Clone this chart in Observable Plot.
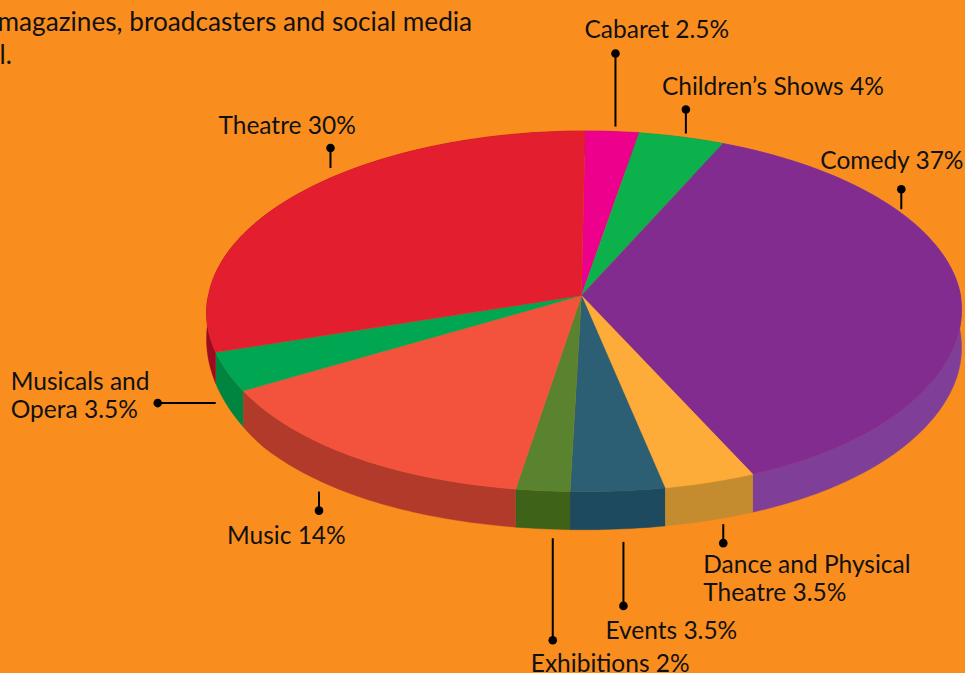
<!DOCTYPE html>
<html>
<head>
<meta charset="utf-8">
<script src="https://cdn.jsdelivr.net/npm/d3@7"></script>
<script src="https://cdn.jsdelivr.net/npm/@observablehq/plot@0.6"></script>
<style>
html,body{margin:0;padding:0;background:#F98E1F;overflow:hidden}
svg{display:block}
</style>
</head>
<body>
<div id="chart"></div>
<script>
// Slices, clockwise from the top of the pie
const names = ["Cabaret","Children’s Shows","Comedy","Dance and Physical Theatre","Events","Exhibitions","Music","Musicals and Opera","Theatre"];
const shares = [2.5,4,37,3.5,3.5,2,14,3.5,30];
const topColors = ["#EC008C","#0DB14B","#832C90","#FDAC3A","#2C5F74","#5A832F","#F3533C","#00A651","#E21E2F"];
const sideColors = ["#B0006A","#098A3A","#7F3F98","#C48B2F","#1D4A5E","#3F6219","#B23A2B","#00843F","#9E0B1F"];

// Callouts: text, where on the rim (percent round the pie), direction, gap and stem length, text offset
const calloutLabels = ["Cabaret 2.5%","Children’s Shows 4%","Comedy 37%","Dance and Physical\nTheatre 3.5%","Events 3.5%","Exhibitions 2%","Music 14%","Musicals and\nOpera 3.5%","Theatre 30%"];
const calloutAt = [1.4,4.7,17.05,44.73,48.55,51.13,61.1,68.45,87.27];
const calloutDir = ["up","up","up","down","down","down","down","left","up"];
const calloutGap = [5,4,4,6,13,9,11,10,10];
const calloutLen = [73,24,20,19,64,102,19,58,20];
const calloutDx = [-31,-24,-81,-20,-18,-22,-92,-147,-112];
const calloutDy = [-25,-24,-29,35,24,23,24,-8,-23];

const titleLines = ["magazines, broadcasters and social media","l."];

// Pie projection, in units of the pie radius
const pxX = 377, pxY = 179, apexX = 581, apexY = 295;
const persp = 0.088, rimShift = 0.0106, depth = 38 / pxY;
function rim(pct, drop = 0) {
  const t = pct / 100 * 2 * Math.PI;
  const u = Math.sin(t), v = -Math.cos(t);
  const w = 1 - persp * v;
  const below = Math.max(v, 0);
  const flare = (1 + 0.06 * Math.pow(below, 4)) * (u > 0 ? 0.995 : 1);
  const shift = rimShift - 0.005 * Math.sqrt(below);
  const sink = u < 0 ? Math.min(1, 0.63 + 0.62 * below) : 1;
  return {x: (u * flare + shift) / w, y: v / w + drop * sink};
}

const ends = d3.cumsum(shares);
const tops = [], sides = [];
names.forEach((name, i) => {
  const a = ends[i] - shares[i], b = ends[i];
  const n = Math.max(4, Math.ceil(shares[i] * 4));
  const arc = d3.range(n + 1).map(k => a + (b - a) * k / n);
  tops.push({name, x: 0, y: 0});
  arc.forEach(p => tops.push({name, ...rim(p)}));
  arc.forEach(p => sides.push({name, ...rim(p)}));
  arc.slice().reverse().forEach(p => sides.push({name, ...rim(p, depth)}));
});

const stems = calloutLabels.map((label, i) => {
  const dir = calloutDir[i], front = dir !== "up";
  const p = rim(calloutAt[i], front ? depth : 0);
  const sx = dir === "left" ? -1 : 0;
  const sy = dir === "up" ? -1 : dir === "down" ? 1 : 0;
  const d0 = calloutGap[i], d1 = d0 + calloutLen[i];
  return {
    label,
    x1: p.x + sx * d0 / pxX, y1: p.y + sy * d0 / pxY,
    x2: p.x + sx * d1 / pxX, y2: p.y + sy * d1 / pxY,
    dx: calloutDx[i], dy: calloutDy[i]
  };
});

const chart = Plot.plot({
  width: 965, height: 673,
  marginTop: 0, marginRight: 0, marginBottom: 0, marginLeft: 0,
  style: {background: "#F98E1F", fontFamily: "Lato, sans-serif", color: "#111"},
  x: {axis: null, domain: [-apexX / pxX, (965 - apexX) / pxX], range: [0, 965]},
  y: {axis: null, domain: [-apexY / pxY, (673 - apexY) / pxY], range: [0, 673]},
  marks: [
    Plot.line(sides, {x: "x", y: "y", z: "name", fill: d => sideColors[names.indexOf(d.name)], stroke: d => sideColors[names.indexOf(d.name)], strokeWidth: 0.4}),
    Plot.line(tops, {x: "x", y: "y", z: "name", fill: d => topColors[names.indexOf(d.name)], stroke: d => topColors[names.indexOf(d.name)], strokeWidth: 0.4}),
    Plot.link(stems, {x1: "x1", y1: "y1", x2: "x2", y2: "y2", stroke: "#000", strokeWidth: 2}),
    Plot.dot(stems, {x: "x2", y: "y2", r: 4.3, fill: "#000", stroke: null}),
    ...stems.map(s => Plot.text([s], {x: "x2", y: "y2", text: "label", dx: s.dx, dy: s.dy, textAnchor: "start", fontSize: 24.5, lineHeight: 1.15, fill: "#111"})),
    Plot.text([titleLines[0]], {frameAnchor: "top-left", dx: -3, dy: 12, textAnchor: "start", lineAnchor: "top", fontSize: 26.2, fill: "#111"}),
    Plot.text([titleLines[1]], {frameAnchor: "top-left", dx: -1, dy: 45, textAnchor: "start", lineAnchor: "top", fontSize: 26.2, fill: "#111"})
  ]
});
document.getElementById("chart").append(chart);
</script>
</body>
</html>
